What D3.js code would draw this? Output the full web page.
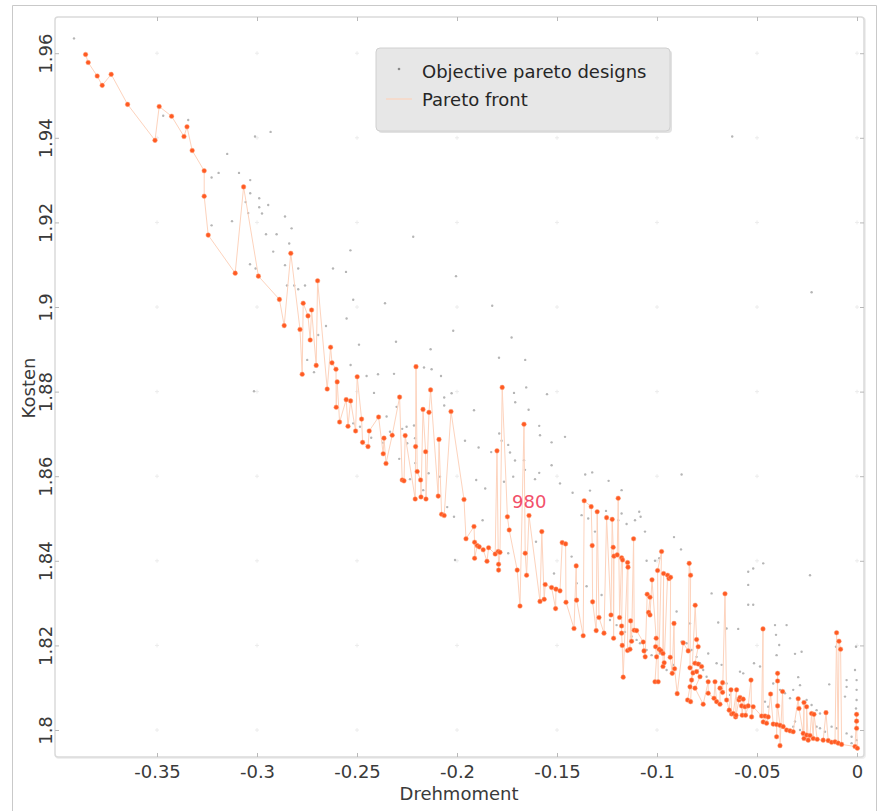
<!DOCTYPE html>
<html><head><meta charset="utf-8">
<script src="https://cdn.jsdelivr.net/npm/d3@7"></script>
<style>
html,body{margin:0;padding:0;background:#fff;}
svg{display:block;}
text{font-family:"DejaVu Sans",Verdana,sans-serif;}
</style></head><body>
<svg id="chart" width="881" height="811"></svg>
<script>
// ---------- data ----------
const xTicks = [-0.35, -0.3, -0.25, -0.2, -0.15, -0.1, -0.05, 0];
const yTicks = [1.8, 1.82, 1.84, 1.86, 1.88, 1.9, 1.92, 1.94, 1.96];
const xDomain = [-0.401, 0.0035];
const yDomain = [1.79362, 1.96856];
const xLabel = "Drehmoment";
const yLabel = "Kosten";
const legendLabels = ["Objective pareto designs", "Pareto front"];
const annotationText = "980";
const annotationPoint = [-0.1725, 1.8525];

// Pareto front points [Drehmoment, Kosten], in plotting order
const paretoFront = [
[-0.3857,1.9597],[-0.3844,1.9578],[-0.3799,1.9546],[-0.3774,1.9524],[-0.3729,1.9550],[-0.3647,1.9479],[-0.3510,1.9394],[-0.3489,1.9474],[-0.3427,1.9451],[-0.3365,1.9403],
[-0.3350,1.9426],[-0.3324,1.9370],[-0.3264,1.9322],[-0.3264,1.9262],[-0.3244,1.9170],[-0.3109,1.9080],[-0.3067,1.9284],[-0.2993,1.9073],[-0.2888,1.9018],[-0.2864,1.8956],
[-0.2831,1.9127],[-0.2785,1.8947],[-0.2774,1.8841],[-0.2769,1.9009],[-0.2745,1.8979],[-0.2734,1.8922],[-0.2727,1.8993],[-0.2704,1.8862],[-0.2697,1.9062],[-0.2649,1.8806],
[-0.2632,1.8905],[-0.2625,1.8868],[-0.2605,1.8853],[-0.2604,1.8763],[-0.2599,1.8823],[-0.2587,1.8728],[-0.2554,1.8781],[-0.2545,1.8718],[-0.2532,1.8778],[-0.2507,1.8707],
[-0.2499,1.8835],[-0.2477,1.8735],[-0.2472,1.8680],[-0.2445,1.8670],[-0.2439,1.8707],[-0.2392,1.8740],[-0.2369,1.8653],[-0.2365,1.8690],[-0.2355,1.8630],[-0.2324,1.8697],
[-0.2287,1.8787],[-0.2274,1.8591],[-0.2265,1.8589],[-0.2259,1.8696],[-0.2209,1.8546],[-0.2207,1.8670],[-0.2205,1.8859],[-0.2199,1.8611],[-0.2182,1.8591],[-0.2180,1.8551],
[-0.2170,1.8758],[-0.2157,1.8658],[-0.2155,1.8546],[-0.2140,1.8751],[-0.2132,1.8804],[-0.2094,1.8553],[-0.2090,1.8687],[-0.2077,1.8510],[-0.2064,1.8507],[-0.2030,1.8753],
[-0.1965,1.8545],[-0.1955,1.8452],[-0.1915,1.8481],[-0.1912,1.8444],[-0.1912,1.8406],[-0.1899,1.8436],[-0.1889,1.8433],[-0.1869,1.8426],[-0.1850,1.8399],[-0.1842,1.8431],
[-0.1809,1.8416],[-0.1800,1.8660],[-0.1794,1.8422],[-0.1792,1.8392],[-0.1792,1.8378],[-0.1785,1.8420],[-0.1774,1.8810],[-0.1748,1.8504],[-0.1739,1.8473],[-0.1699,1.8378],
[-0.1685,1.8293],[-0.1665,1.8723],[-0.1659,1.8418],[-0.1652,1.8366],[-0.1640,1.8507],[-0.1585,1.8304],[-0.1576,1.8469],[-0.1564,1.8309],[-0.1559,1.8344],[-0.1527,1.8337],
[-0.1507,1.8287],[-0.1505,1.8333],[-0.1485,1.8329],[-0.1474,1.8443],[-0.1457,1.8440],[-0.1455,1.8302],[-0.1415,1.8240],[-0.1404,1.8388],[-0.1402,1.8307],[-0.1369,1.8223],
[-0.1364,1.8542],[-0.1329,1.8528],[-0.1324,1.8436],[-0.1322,1.8303],[-0.1304,1.8235],[-0.1299,1.8516],[-0.1290,1.8266],[-0.1265,1.8229],[-0.1252,1.8502],[-0.1230,1.8272],
[-0.1224,1.8498],[-0.1219,1.8432],[-0.1217,1.8217],[-0.1215,1.8411],[-0.1199,1.8414],[-0.1194,1.8548],[-0.1187,1.8266],[-0.1177,1.8407],[-0.1172,1.8402],[-0.1177,1.8246],
[-0.1177,1.8229],[-0.1174,1.8200],[-0.1169,1.8125],[-0.1147,1.8396],[-0.1145,1.8385],[-0.1147,1.8188],[-0.1135,1.8191],[-0.1132,1.8258],[-0.1127,1.8210],[-0.1117,1.8452],
[-0.1114,1.8236],[-0.1102,1.8235],[-0.1069,1.8208],[-0.1065,1.8187],[-0.1059,1.8173],[-0.1049,1.8321],[-0.1035,1.8314],[-0.1042,1.8278],[-0.1035,1.8272],[-0.1025,1.8355],
[-0.1004,1.8217],[-0.1007,1.8197],[-0.1002,1.8173],[-0.1010,1.8114],[-0.0994,1.8114],[-0.0997,1.8377],[-0.0977,1.8422],[-0.0989,1.8191],[-0.0980,1.8187],[-0.0970,1.8181],
[-0.0967,1.8370],[-0.0970,1.8150],[-0.0964,1.8159],[-0.0947,1.8366],[-0.0940,1.8358],[-0.0932,1.8361],[-0.0934,1.8172],[-0.0924,1.8134],[-0.0915,1.8252],[-0.0912,1.8145],
[-0.0899,1.8086],[-0.0869,1.8206],[-0.0844,1.8187],[-0.0839,1.8394],[-0.0832,1.8366],[-0.0835,1.8147],[-0.0820,1.8135],[-0.0827,1.8118],[-0.0835,1.8102],[-0.0847,1.8071],
[-0.0832,1.8067],[-0.0809,1.8295],[-0.0802,1.8214],[-0.0794,1.8197],[-0.0810,1.8158],[-0.0794,1.8156],[-0.0777,1.8150],[-0.0802,1.8138],[-0.0785,1.8126],[-0.0810,1.8099],
[-0.0769,1.8061],[-0.0744,1.8114],[-0.0744,1.8087],[-0.0715,1.8075],[-0.0710,1.8114],[-0.0702,1.8067],[-0.0685,1.8061],[-0.0685,1.8099],[-0.0672,1.8112],[-0.0672,1.8089],
[-0.0660,1.8322],[-0.0652,1.8071],[-0.0639,1.8047],[-0.0630,1.8095],[-0.0627,1.8038],[-0.0619,1.8039],[-0.0602,1.8095],[-0.0607,1.8031],[-0.0605,1.8035],[-0.0590,1.8071],
[-0.0585,1.8077],[-0.0577,1.8057],[-0.0574,1.8035],[-0.0569,1.8073],[-0.0560,1.8055],[-0.0557,1.8035],[-0.0544,1.8057],[-0.0530,1.8118],[-0.0527,1.8031],[-0.0519,1.8055],
[-0.0477,1.8033],[-0.0470,1.8239],[-0.0469,1.8019],[-0.0460,1.8033],[-0.0452,1.8016],[-0.0444,1.8031],[-0.0432,1.8085],[-0.0419,1.8014],[-0.0402,1.8013],[-0.0402,1.7984],
[-0.0397,1.8134],[-0.0397,1.8116],[-0.0397,1.8057],[-0.0385,1.8011],[-0.0385,1.7963],[-0.0372,1.8091],[-0.0369,1.8008],[-0.0352,1.8000],[-0.0335,1.7998],[-0.0319,1.7996],
[-0.0294,1.8074],[-0.0290,1.8051],[-0.0269,1.7992],[-0.0265,1.8065],[-0.0265,1.7980],[-0.0252,1.7988],[-0.0252,1.8055],[-0.0244,1.7976],[-0.0235,1.7987],[-0.0227,1.8039],
[-0.0219,1.7980],[-0.0215,1.8037],[-0.0199,1.7978],[-0.0169,1.7976],[-0.0155,1.8041],[-0.0144,1.7975],[-0.0127,1.7971],[-0.0110,1.7972],[-0.0102,1.8230],[-0.0094,1.7969],
[-0.0090,1.8210],[-0.0082,1.8191],[-0.0077,1.7966],[-0.0010,1.7961],[-0.0002,1.8037],[-0.0002,1.8021],[-0.0002,1.8004],[0.0002,1.7957]
];

// Objective pareto designs (grey dots) [Drehmoment, Kosten]
const paretoDesigns = [
[-0.3915,1.9635],[-0.3469,1.9452],[-0.3344,1.9442],[-0.3010,1.9403],[-0.2932,1.9414],[-0.3149,1.9362],[-0.3227,1.9306],[-0.3192,1.9317],[-0.3090,1.9317],[-0.3034,1.9300],
[-0.3034,1.9269],[-0.3057,1.9248],[-0.2989,1.9257],[-0.2989,1.9236],[-0.2944,1.9241],[-0.2975,1.9221],[-0.3044,1.9222],[-0.2860,1.9214],[-0.3125,1.9203],[-0.3227,1.9193],
[-0.2955,1.9172],[-0.2902,1.9172],[-0.2827,1.9186],[-0.2919,1.9131],[-0.2839,1.9150],[-0.3035,1.9101],[-0.3007,1.9091],[-0.2860,1.9099],[-0.2794,1.9091],[-0.2620,1.9091],
[-0.2555,1.9083],[-0.2850,1.9051],[-0.2814,1.9051],[-0.2760,1.9051],[-0.2794,1.9042],[-0.2533,1.9134],[-0.2519,1.9017],[-0.2360,1.9009],[-0.2552,1.8973],[-0.2655,1.8955],
[-0.2694,1.8934],[-0.2305,1.8918],[-0.2490,1.8911],[-0.2749,1.8875],[-0.2532,1.8863],[-0.2715,1.8846],[-0.2452,1.8837],[-0.2395,1.8841],[-0.2315,1.8842],[-0.3015,1.8801],
[-0.2415,1.8797],[-0.2302,1.8764],[-0.2519,1.8725],[-0.2485,1.8717],[-0.2352,1.8741],[-0.2429,1.8691],[-0.2335,1.8705],[-0.2274,1.8712],[-0.2215,1.8720],[-0.2249,1.8678],
[-0.2369,1.8679],[-0.2289,1.8641],[-0.2209,1.8631],[-0.2142,1.8607],[-0.2169,1.8567],[-0.2235,1.8593],[-0.2085,1.8599],[-0.2049,1.8527],[-0.2015,1.8504],[-0.1960,1.8684],
[-0.1904,1.8591],[-0.1859,1.8571],[-0.1829,1.8657],[-0.1735,1.8656],[-0.1710,1.8637],[-0.1789,1.8701],[-0.1777,1.8684],[-0.1765,1.8587],[-0.1719,1.8599],[-0.1585,1.8697],
[-0.1589,1.8719],[-0.1610,1.8593],[-0.1589,1.8608],[-0.1665,1.8638],[-0.1660,1.8615],[-0.1605,1.8445],[-0.2005,1.9073],[-0.1824,1.9003],[-0.2019,1.8944],[-0.1727,1.8928],
[-0.2132,1.8900],[-0.1790,1.8880],[-0.1659,1.8875],[-0.2165,1.8857],[-0.2127,1.8853],[-0.2080,1.8837],[-0.2027,1.8796],[-0.2064,1.8786],[-0.1654,1.8810],[-0.1715,1.8797],
[-0.1709,1.8775],[-0.1550,1.8794],[-0.2064,1.8767],[-0.1915,1.8756],[-0.1642,1.8757],[-0.1460,1.8693],[-0.1527,1.8680],[-0.1892,1.8668],[-0.1527,1.8626],[-0.1485,1.8583],
[-0.1359,1.8604],[-0.1324,1.8609],[-0.1242,1.8589],[-0.1335,1.8566],[-0.1177,1.8567],[-0.0877,1.8604],[-0.1744,1.8674],[-0.2252,1.8717],[-0.2210,1.8690],[-0.2219,1.9166],
[-0.0624,1.9403],[-0.0227,1.9035],[-0.1422,1.8561],[-0.1377,1.8508],[-0.1344,1.8500],[-0.1255,1.8518],[-0.1194,1.8496],[-0.1177,1.8512],[-0.1152,1.8487],[-0.1110,1.8496],
[-0.1089,1.8516],[-0.1082,1.8504],[-0.1060,1.8469],[-0.0880,1.8427],[-0.0915,1.8456],[-0.1052,1.8400],[-0.1010,1.8400],[-0.0989,1.8406],[-0.0727,1.8323],[-0.0544,1.8374],
[-0.0519,1.8382],[-0.0469,1.8394],[-0.0235,1.8366],[-0.0544,1.8343],[-0.0544,1.8296],[-0.0519,1.8296],[-0.0694,1.8254],[-0.0652,1.8240],[-0.0594,1.8239],[-0.0410,1.8248],
[-0.0352,1.8248],[-0.0405,1.8225],[-0.0310,1.8180],[-0.0277,1.8185],[-0.0105,1.8197],[-0.0005,1.8197],[-0.0010,1.8142],[-0.0002,1.8118],[-0.0002,1.8095],[-0.0002,1.8071],
[-0.0005,1.8051],[-0.0052,1.8118],[-0.0052,1.8102],[-0.0319,1.8095],[-0.0285,1.8106],[-0.0402,1.8177],[-0.0515,1.8158],[-0.0485,1.8150],[-0.0585,1.8138],[-0.0569,1.8134],
[-0.0702,1.8158],[-0.0677,1.8154],[-0.0652,1.8110],[-0.0635,1.8083],[-0.0602,1.8075],[-0.0852,1.8205],[-0.0827,1.8189],[-0.0802,1.8173],[-0.0785,1.8158],[-0.0769,1.8142],
[-0.0752,1.8126],[-0.1052,1.8189],[-0.1027,1.8177],[-0.1002,1.8170],[-0.0985,1.8181],[-0.0952,1.8142],[-0.0919,1.8154],[-0.1160,1.8232],[-0.1127,1.8221],[-0.1102,1.8213],
[-0.1085,1.8205],[-0.1235,1.8260],[-0.1202,1.8248],[-0.0419,1.8110],[-0.0385,1.8095],[-0.0360,1.8087],[-0.0335,1.8075],[-0.0252,1.8071],[-0.0227,1.8059],[-0.0202,1.8047],
[-0.0185,1.8039],[-0.0127,1.8008],[-0.0102,1.8004],[-0.0052,1.7992],[-0.0027,1.7984],[-0.0002,1.7976],[-0.0319,1.8008],[-0.0285,1.8000],[-0.0185,1.8004],[-0.0160,1.7996],
[-0.0294,1.8125],[-0.0139,1.8108],[-0.0060,1.8079],[-0.0460,1.8067],[-0.0444,1.8055],[-0.0310,1.8020],[-0.0202,1.8008],[-0.0027,1.7969],[-0.0389,1.8201],[-0.1277,1.8319],
[-0.0902,1.8280],[-0.0877,1.8209],[-0.0835,1.8252],[-0.0744,1.8181],[-0.2010,1.8402],[-0.1872,1.8496],[-0.1744,1.8418],[-0.1515,1.8370],[-0.1427,1.8410],[-0.1402,1.8347],
[-0.1352,1.8340],[-0.1310,1.8469]
];

// ---------- drawing ----------
const svg = d3.select("#chart");
const W = 881, H = 811;
const plot = {left: 55, right: 864, top: 17, bottom: 757};

const x = d3.scaleLinear().domain(xDomain).range([plot.left, plot.right]);
const y = d3.scaleLinear().domain(yDomain).range([plot.bottom, plot.top]);

// outer image frame
svg.append("path")
  .attr("d", `M12.5,${H} V5.5 H876.5 V${H}`)
  .attr("fill", "none").attr("stroke", "#c9c9c9").attr("stroke-width", 1);

// plot frame with soft shadow
svg.append("rect")
  .attr("x", plot.left + 1).attr("y", plot.top + 1)
  .attr("width", plot.right - plot.left).attr("height", plot.bottom - plot.top)
  .attr("rx", 3).attr("fill", "none").attr("stroke", "#efefef").attr("stroke-width", 2);
svg.append("rect")
  .attr("x", plot.left).attr("y", plot.top)
  .attr("width", plot.right - plot.left).attr("height", plot.bottom - plot.top)
  .attr("rx", 3).attr("fill", "#fff").attr("stroke", "#dadada").attr("stroke-width", 1.5);

// faint grid crosses at tick intersections
const cross = svg.append("g").attr("stroke", "#ececec").attr("stroke-width", 1);
xTicks.forEach(tx => yTicks.forEach(ty => {
  const cx = x(tx), cy = y(ty);
  cross.append("line").attr("x1", cx - 2).attr("x2", cx + 2).attr("y1", cy).attr("y2", cy);
  cross.append("line").attr("x1", cx).attr("x2", cx).attr("y1", cy - 2).attr("y2", cy + 2);
}));

const fmt = d => String(+d.toFixed(2));

function styleAxis(g) {
  g.select(".domain").remove();
  g.selectAll(".tick line").attr("stroke", "#b8b8b8").attr("stroke-width", 1);
  g.selectAll(".tick text").attr("fill", "#3a3a3a").attr("font-size", 18)
    .attr("font-family", '"DejaVu Sans",Verdana,sans-serif');
}

// bottom axis
const gx = svg.append("g").attr("transform", `translate(0,${plot.bottom})`)
  .call(d3.axisBottom(x).tickValues(xTicks).tickSize(-4).tickPadding(8).tickFormat(fmt));
styleAxis(gx);

// top axis (ticks only)
const gxt = svg.append("g").attr("transform", `translate(0,${plot.top})`)
  .call(d3.axisTop(x).tickValues(xTicks).tickSize(-4).tickFormat(""));
styleAxis(gxt);

// left axis with rotated labels
const gy = svg.append("g").attr("transform", `translate(${plot.left},0)`)
  .call(d3.axisLeft(y).tickValues(yTicks).tickSize(-4).tickFormat(fmt));
styleAxis(gy);
gy.selectAll(".tick text")
  .attr("transform", "rotate(-90)")
  .attr("x", 0).attr("y", -3).attr("dy", 0)
  .attr("text-anchor", "middle");

// right axis (ticks only)
const gyr = svg.append("g").attr("transform", `translate(${plot.right},0)`)
  .call(d3.axisRight(y).tickValues(yTicks).tickSize(-4).tickFormat(""));
styleAxis(gyr);

// axis titles
svg.append("text").attr("x", 459).attr("y", 800).attr("text-anchor", "middle")
  .attr("font-size", 18).attr("fill", "#3a3a3a").text(xLabel);
svg.append("text").attr("transform", "translate(35,388) rotate(-90)").attr("text-anchor", "middle")
  .attr("font-size", 18).attr("fill", "#3a3a3a").text(yLabel);

// clip
svg.append("clipPath").attr("id", "clip").append("rect")
  .attr("x", plot.left).attr("y", plot.top)
  .attr("width", plot.right - plot.left).attr("height", plot.bottom - plot.top);
const body = svg.append("g").attr("clip-path", "url(#clip)");

// grey design points
body.append("g").selectAll("circle").data(paretoDesigns).join("circle")
  .attr("cx", d => x(d[0])).attr("cy", d => y(d[1])).attr("r", 1.2)
  .attr("fill", "#a3a3a3").attr("fill-opacity", 0.8);

// pareto front line
body.append("path").datum(paretoFront)
  .attr("d", d3.line().x(d => x(d[0])).y(d => y(d[1])))
  .attr("fill", "none").attr("stroke", "#fdd3bd").attr("stroke-width", 1)
  .attr("stroke-linejoin", "round");

// pareto front points
body.append("g").selectAll("circle").data(paretoFront).join("circle")
  .attr("cx", d => x(d[0])).attr("cy", d => y(d[1])).attr("r", 2.3)
  .attr("fill", "#ff5a22").attr("stroke", "#ffa07a").attr("stroke-width", 0.8)
  .attr("stroke-opacity", 0.6);

// annotation
svg.append("text").attr("x", x(annotationPoint[0])).attr("y", y(annotationPoint[1]))
  .attr("font-size", 18).attr("fill", "#f2506a").text(annotationText);

// legend
const lg = svg.append("g");
lg.append("rect").attr("x", 378).attr("y", 50).attr("width", 294).attr("height", 83)
  .attr("rx", 4).attr("fill", "#cfcfcf").attr("opacity", 0.6);
lg.append("rect").attr("x", 376).attr("y", 48).attr("width", 294).attr("height", 83)
  .attr("rx", 4).attr("fill", "#e7e7e7").attr("stroke", "#d0d0d0");
lg.append("circle").attr("cx", 399).attr("cy", 69).attr("r", 1.3).attr("fill", "#8a8a8a");
lg.append("line").attr("x1", 386).attr("x2", 412).attr("y1", 99).attr("y2", 99)
  .attr("stroke", "#fdd3bd").attr("stroke-width", 1.2);
lg.append("text").attr("x", 422).attr("y", 78).attr("font-size", 18).attr("fill", "#262626").text(legendLabels[0]);
lg.append("text").attr("x", 422).attr("y", 106).attr("font-size", 18).attr("fill", "#262626").text(legendLabels[1]);
</script>
</body></html>
